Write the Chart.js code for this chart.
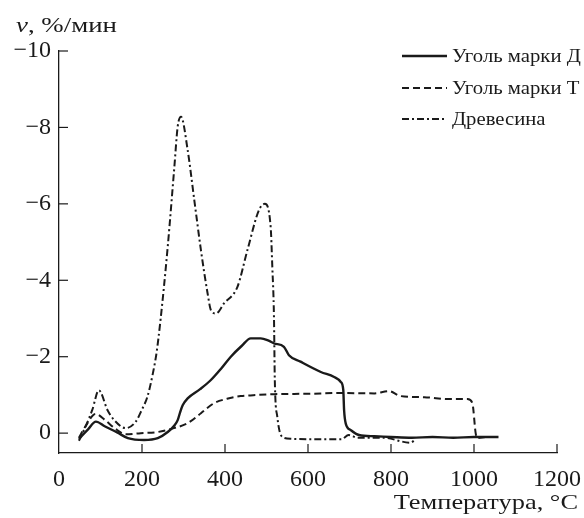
<!DOCTYPE html>
<html><head><meta charset="utf-8">
<script src="https://cdn.jsdelivr.net/npm/chart.js@4/dist/chart.umd.min.js"></script>
<style>html,body{margin:0;padding:0;background:#fff}#wrap{width:584px;height:518px}</style>
</head><body><div id="wrap"><canvas id="c" width="584" height="518"></canvas></div>
<script>
const seriesNames = ['Уголь марки Д', 'Уголь марки Т', 'Древесина'];
const xTickValues = [0, 200, 400, 600, 800, 1000, 1200];
const yTickValues = [0, -2, -4, -6, -8, -10];

const coalD_x = [48, 70, 89, 110, 140, 166, 205, 238, 262, 278, 286, 292, 298, 310, 340, 366, 390, 414, 440, 462, 486, 505, 518, 542, 554, 582, 631, 663, 679, 685, 687, 691, 703, 723, 760, 800, 850, 900, 950, 1000, 1030, 1059];
const coalD_v = [0.15, -0.1, -0.30, -0.18, -0.02, 0.13, 0.18, 0.13, -0.03, -0.2, -0.34, -0.55, -0.73, -0.91, -1.15, -1.39, -1.68, -2.0, -2.28, -2.48, -2.48, -2.42, -2.35, -2.26, -2.04, -1.87, -1.60, -1.47, -1.34, -1.13, -0.60, -0.25, -0.08, 0.05, 0.08, 0.1, 0.12, 0.1, 0.12, 0.1, 0.1, 0.1];

const coalT_x = [48, 65, 88, 110, 135, 161, 197, 238, 277, 310, 342, 373, 405, 438, 480, 518, 600, 679, 760, 795, 823, 880, 943, 984, 996, 1004, 1008, 1030, 1059];
const coalT_v = [0.12, -0.2, -0.5, -0.35, -0.12, 0.03, 0.0, -0.03, -0.13, -0.26, -0.52, -0.78, -0.9, -0.97, -1.0, -1.02, -1.03, -1.05, -1.04, -1.10, -0.97, -0.94, -0.89, -0.89, -0.79, 0.0, 0.13, 0.1, 0.1];

const wood_x = [48, 65, 80, 96, 117, 133, 161, 185, 200, 213, 225, 235, 245, 262, 278, 286, 294, 310, 326, 342, 358, 366, 378, 398, 430, 454, 482, 496, 510, 514, 518, 520, 526, 538, 560, 620, 680, 698, 720, 780, 847, 860];
const wood_v = [0.2, -0.2, -0.6, -1.12, -0.6, -0.34, -0.13, -0.3, -0.62, -0.95, -1.5, -2.1, -3.0, -4.88, -6.97, -8.02, -8.28, -7.41, -6.10, -4.79, -3.66, -3.22, -3.13, -3.40, -3.83, -4.79, -5.84, -6.0, -5.40, -4.35, -3.04, -1.39, -0.43, 0.10, 0.15, 0.16, 0.16, 0.05, 0.12, 0.12, 0.25, 0.15];

const toPts = (xs, vs) => xs.map((x, i) => ({x: x, y: vs[i]}));
const INK = '#1a1a1a';
const SERIF = '"Liberation Serif", "DejaVu Serif", serif';

function wideText(ctx, text, x, y, sx) {
  ctx.save(); ctx.translate(x, y); ctx.scale(sx, 1); ctx.fillText(text, 0, 0); ctx.restore();
}

const decor = {
  id: 'decor',
  afterDraw(chart) {
    const ctx = chart.ctx, xs = chart.scales.x, ys = chart.scales.y, ca = chart.chartArea;
    ctx.save();
    ctx.strokeStyle = INK; ctx.lineWidth = 1.2; ctx.setLineDash([]);
    xTickValues.forEach(v => { const p = xs.getPixelForValue(v); if (v === 0) return;
      ctx.beginPath(); ctx.moveTo(p, ca.bottom); ctx.lineTo(p, ca.bottom - 9); ctx.stroke(); });
    yTickValues.forEach(v => { const p = ys.getPixelForValue(v);
      ctx.beginPath(); ctx.moveTo(ca.left, p); ctx.lineTo(ca.left + 9, p); ctx.stroke(); });
    ctx.fillStyle = INK; ctx.textBaseline = 'alphabetic'; ctx.textAlign = 'left';
    ctx.font = 'italic 22px ' + SERIF;
    const sy = 1.22;
    wideText(ctx, 'v', 16, 32, sy);
    const w = ctx.measureText('v').width * sy;
    ctx.font = '22px ' + SERIF;
    wideText(ctx, ', %/мин', 16 + w, 32, sy);
    ctx.textAlign = 'right';
    wideText(ctx, 'Температура, °C', 578, 509, 1.2);
    const lx0 = 402, lx1 = 447, rows = [56, 88, 119];
    chart.data.datasets.forEach((ds, i) => {
      ctx.lineWidth = ds.borderWidth; ctx.setLineDash(ds.borderDash || []);
      ctx.beginPath(); ctx.moveTo(lx0, rows[i]); ctx.lineTo(lx1, rows[i]); ctx.stroke();
      ctx.setLineDash([]);
      ctx.textAlign = 'left'; ctx.textBaseline = 'middle'; ctx.font = '18px ' + SERIF;
      wideText(ctx, ds.label, 452, rows[i] + 1, 1.15);
    });
    ctx.restore();
  }
};

new Chart(document.getElementById('c'), {
  type: 'line',
  data: {
    datasets: [
      {label: seriesNames[0], data: toPts(coalD_x, coalD_v), borderColor: INK, borderWidth: 2.4, pointRadius: 0, cubicInterpolationMode: 'monotone', fill: false},
      {label: seriesNames[1], data: toPts(coalT_x, coalT_v), borderColor: INK, borderWidth: 2, borderDash: [7, 4], pointRadius: 0, cubicInterpolationMode: 'monotone', fill: false},
      {label: seriesNames[2], data: toPts(wood_x, wood_v), borderColor: INK, borderWidth: 2, borderDash: [7, 3, 2, 3], pointRadius: 0, cubicInterpolationMode: 'monotone', fill: false}
    ]
  },
  options: {
    responsive: false, animation: false, devicePixelRatio: 1,
    layout: {padding: {top: 51, right: 27, left: 0, bottom: 0}},
    plugins: {legend: {display: false}, tooltip: {enabled: false}},
    scales: {
      x: {type: 'linear', min: 0, max: 1200,
        afterBuildTicks: s => { s.ticks = xTickValues.map(v => ({value: v})); },
        afterFit: s => { s.height = 65; s.paddingLeft = 0; s.paddingRight = 0; },
        grid: {display: false, drawTicks: false},
        border: {display: true, color: INK, width: 1.3},
        ticks: {color: INK, font: {family: SERIF, size: 24}, padding: 12, maxRotation: 0,
          callback: v => String(v)}
      },
      y: {type: 'linear', reverse: true, min: -10, max: 0.52,
        afterBuildTicks: s => { s.ticks = yTickValues.map(v => ({value: v})); },
        afterFit: s => { s.width = 59; s.paddingTop = 0; s.paddingBottom = 0; },
        grid: {display: false, drawTicks: false},
        border: {display: true, color: INK, width: 1.3},
        ticks: {color: INK, font: {family: SERIF, size: 24}, padding: 8,
          callback: v => v === 0 ? '0' : '\u2212' + Math.abs(v)}
      }
    }
  },
  plugins: [decor]
});
</script></body></html>
